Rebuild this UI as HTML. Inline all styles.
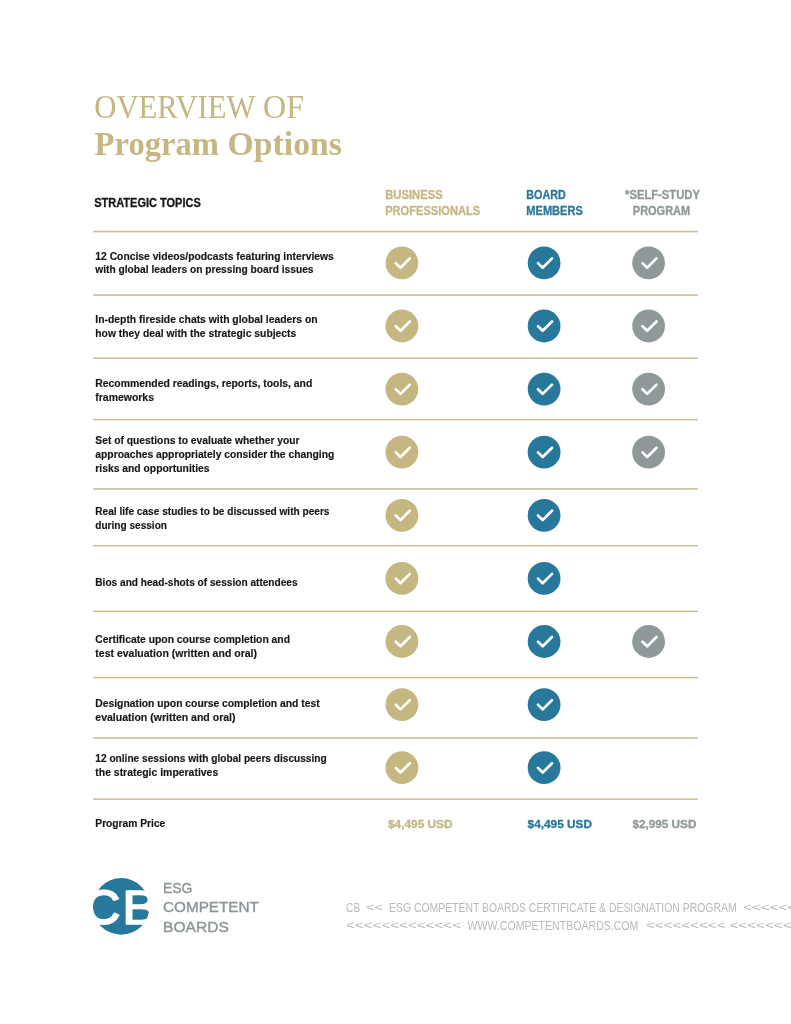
<!DOCTYPE html>
<html lang="en">
<head>
<meta charset="utf-8">
<title>Overview of Program Options</title>
<style>
html,body{margin:0;padding:0;background:#fff;}
body{width:791px;height:1024px;overflow:hidden;font-family:"Liberation Sans",sans-serif;}
svg{display:block;}
text{white-space:pre;font-family:"Liberation Sans",sans-serif;}
text.serif{font-family:"Liberation Serif",serif;}
text.bold{font-weight:bold;}
text.gold,circle.gold{fill:#c4b782;}
text.blue,circle.blue{fill:#27789b;}
text.gray,circle.gray{fill:#8f9999;}
text.ink{fill:#151515;}
text.hd{font-weight:bold;stroke-width:0.3px;}
text.hd.ink{stroke:#151515;} text.hd.gold{stroke:#c4b782;} text.hd.blue{stroke:#27789b;} text.hd.gray{stroke:#8f9999;}
text.row{font-weight:bold;stroke:#151515;stroke-width:0.15px;}
text.logotype{fill:#8c9598;stroke:#8c9598;stroke-width:0.4px;}
text.foot{fill:#b9b9b9;}
text.mark{fill:#fff;stroke:#fff;stroke-linejoin:round;}
rect.rule{fill:#c9c097;}
path.tick{fill:none;stroke:#fff;stroke-width:2.7px;stroke-linecap:round;stroke-linejoin:round;}
</style>
</head>
<body>
<svg width="791" height="1024" viewBox="0 0 791 1024" role="img" aria-label="Overview of Program Options">
<rect width="791" height="1024" fill="#fff"/>

<!-- Title -->
<text class="serif gold"><tspan x="94.2" y="117.6" font-size="33.7" textLength="161.4" lengthAdjust="spacingAndGlyphs">OVERVIEW</tspan> <tspan x="263.0" y="117.6" font-size="33.7" textLength="41.0" lengthAdjust="spacingAndGlyphs">OF</tspan></text>
<text class="serif bold gold"><tspan x="94.6" y="154.5" font-size="33.4" textLength="124.4" lengthAdjust="spacingAndGlyphs">Program</tspan> <tspan x="227.6" y="154.5" font-size="33.4" textLength="114.4" lengthAdjust="spacingAndGlyphs">Options</tspan></text>

<!-- Column headers -->
<text class="hd ink"><tspan x="94.2" y="207.2" font-size="12.0" textLength="106.6" lengthAdjust="spacingAndGlyphs">STRATEGIC TOPICS</tspan></text>
<text class="hd gold"><tspan x="385.2" y="199.2" font-size="12.0" textLength="57.6" lengthAdjust="spacingAndGlyphs">BUSINESS</tspan> <tspan x="385.2" y="214.6" font-size="12.0" textLength="95.0" lengthAdjust="spacingAndGlyphs">PROFESSIONALS</tspan></text>
<text class="hd blue"><tspan x="526.3" y="199.2" font-size="12.0" textLength="39.4" lengthAdjust="spacingAndGlyphs">BOARD</tspan> <tspan x="526.3" y="214.6" font-size="12.0" textLength="56.5" lengthAdjust="spacingAndGlyphs">MEMBERS</tspan></text>
<text class="hd gray"><tspan x="625.0" y="199.2" font-size="12.0" textLength="75.0" lengthAdjust="spacingAndGlyphs">*SELF-STUDY</tspan> <tspan x="632.8" y="214.6" font-size="12.0" textLength="57.4" lengthAdjust="spacingAndGlyphs">PROGRAM</tspan></text>

<!-- Horizontal rules -->
<rect class="rule" x="93.2" y="230.80" width="604.6" height="1.6"/>
<rect class="rule" x="93.2" y="294.30" width="604.6" height="1.6"/>
<rect class="rule" x="93.2" y="357.40" width="604.6" height="1.6"/>
<rect class="rule" x="93.2" y="418.80" width="604.6" height="1.6"/>
<rect class="rule" x="93.2" y="488.10" width="604.6" height="1.6"/>
<rect class="rule" x="93.2" y="544.90" width="604.6" height="1.6"/>
<rect class="rule" x="93.2" y="610.60" width="604.6" height="1.6"/>
<rect class="rule" x="93.2" y="676.80" width="604.6" height="1.6"/>
<rect class="rule" x="93.2" y="737.20" width="604.6" height="1.6"/>
<rect class="rule" x="93.2" y="798.40" width="604.6" height="1.6"/>

<!-- Row labels -->
<text class="row ink"><tspan x="95.3" y="259.5" font-size="10.2" textLength="238.5" lengthAdjust="spacingAndGlyphs">12 Concise videos/podcasts featuring interviews</tspan> <tspan x="95.3" y="273.4" font-size="10.2" textLength="218.2" lengthAdjust="spacingAndGlyphs">with global leaders on pressing board issues</tspan></text>
<text class="row ink"><tspan x="95.3" y="323.1" font-size="10.2" textLength="222.3" lengthAdjust="spacingAndGlyphs">In-depth fireside chats with global leaders on</tspan> <tspan x="95.3" y="337.1" font-size="10.2" textLength="201.0" lengthAdjust="spacingAndGlyphs">how they deal with the strategic subjects</tspan></text>
<text class="row ink"><tspan x="95.3" y="386.8" font-size="10.2" textLength="217.0" lengthAdjust="spacingAndGlyphs">Recommended readings, reports, tools, and</tspan> <tspan x="95.3" y="400.9" font-size="10.2" textLength="58.7" lengthAdjust="spacingAndGlyphs">frameworks</tspan></text>
<text class="row ink"><tspan x="95.3" y="444.3" font-size="10.2" textLength="204.3" lengthAdjust="spacingAndGlyphs">Set of questions to evaluate whether your</tspan> <tspan x="95.3" y="458.3" font-size="10.2" textLength="239.0" lengthAdjust="spacingAndGlyphs">approaches appropriately consider the changing</tspan> <tspan x="95.3" y="472.1" font-size="10.2" textLength="114.3" lengthAdjust="spacingAndGlyphs">risks and opportunities</tspan></text>
<text class="row ink"><tspan x="95.3" y="514.9" font-size="10.2" textLength="234.2" lengthAdjust="spacingAndGlyphs">Real life case studies to be discussed with peers</tspan> <tspan x="95.3" y="529.0" font-size="10.2" textLength="71.7" lengthAdjust="spacingAndGlyphs">during session</tspan></text>
<text class="row ink"><tspan x="95.3" y="586.0" font-size="10.2" textLength="202.3" lengthAdjust="spacingAndGlyphs">Bios and head-shots of session attendees</tspan></text>
<text class="row ink"><tspan x="95.3" y="643.3" font-size="10.2" textLength="194.7" lengthAdjust="spacingAndGlyphs">Certificate upon course completion and</tspan> <tspan x="95.3" y="657.0" font-size="10.2" textLength="161.7" lengthAdjust="spacingAndGlyphs">test evaluation (written and oral)</tspan></text>
<text class="row ink"><tspan x="95.3" y="706.8" font-size="10.2" textLength="224.3" lengthAdjust="spacingAndGlyphs">Designation upon course completion and test</tspan> <tspan x="95.3" y="720.8" font-size="10.2" textLength="140.2" lengthAdjust="spacingAndGlyphs">evaluation (written and oral)</tspan></text>
<text class="row ink"><tspan x="95.3" y="762.4" font-size="10.2" textLength="231.4" lengthAdjust="spacingAndGlyphs">12 online sessions with global peers discussing</tspan> <tspan x="95.3" y="776.1" font-size="10.2" textLength="122.9" lengthAdjust="spacingAndGlyphs">the strategic imperatives</tspan></text>
<text class="row ink"><tspan x="95.3" y="826.6" font-size="10.2" textLength="70.0" lengthAdjust="spacingAndGlyphs">Program Price</tspan></text>

<!-- Check marks -->
<circle class="gold" cx="401.9" cy="262.9" r="16.4"/><path class="tick" d="M395.8 263.1 L400.5 267.7 L409.8 258.4"/>
<circle class="gold" cx="401.9" cy="326.0" r="16.4"/><path class="tick" d="M395.8 326.2 L400.5 330.8 L409.8 321.5"/>
<circle class="gold" cx="401.9" cy="389.1" r="16.4"/><path class="tick" d="M395.8 389.3 L400.5 393.9 L409.8 384.6"/>
<circle class="gold" cx="401.9" cy="452.2" r="16.4"/><path class="tick" d="M395.8 452.4 L400.5 457.0 L409.8 447.7"/>
<circle class="gold" cx="401.9" cy="515.3" r="16.4"/><path class="tick" d="M395.8 515.5 L400.5 520.1 L409.8 510.8"/>
<circle class="gold" cx="401.9" cy="578.4" r="16.4"/><path class="tick" d="M395.8 578.6 L400.5 583.2 L409.8 573.9"/>
<circle class="gold" cx="401.9" cy="641.5" r="16.4"/><path class="tick" d="M395.8 641.7 L400.5 646.3 L409.8 637.0"/>
<circle class="gold" cx="401.9" cy="704.6" r="16.4"/><path class="tick" d="M395.8 704.8 L400.5 709.4 L409.8 700.1"/>
<circle class="gold" cx="401.9" cy="767.7" r="16.4"/><path class="tick" d="M395.8 767.9 L400.5 772.5 L409.8 763.2"/>
<circle class="blue" cx="544.1" cy="262.9" r="16.4"/><path class="tick" d="M538.0 263.1 L542.7 267.7 L552.0 258.4"/>
<circle class="blue" cx="544.1" cy="326.0" r="16.4"/><path class="tick" d="M538.0 326.2 L542.7 330.8 L552.0 321.5"/>
<circle class="blue" cx="544.1" cy="389.1" r="16.4"/><path class="tick" d="M538.0 389.3 L542.7 393.9 L552.0 384.6"/>
<circle class="blue" cx="544.1" cy="452.2" r="16.4"/><path class="tick" d="M538.0 452.4 L542.7 457.0 L552.0 447.7"/>
<circle class="blue" cx="544.1" cy="515.3" r="16.4"/><path class="tick" d="M538.0 515.5 L542.7 520.1 L552.0 510.8"/>
<circle class="blue" cx="544.1" cy="578.4" r="16.4"/><path class="tick" d="M538.0 578.6 L542.7 583.2 L552.0 573.9"/>
<circle class="blue" cx="544.1" cy="641.5" r="16.4"/><path class="tick" d="M538.0 641.7 L542.7 646.3 L552.0 637.0"/>
<circle class="blue" cx="544.1" cy="704.6" r="16.4"/><path class="tick" d="M538.0 704.8 L542.7 709.4 L552.0 700.1"/>
<circle class="blue" cx="544.1" cy="767.7" r="16.4"/><path class="tick" d="M538.0 767.9 L542.7 772.5 L552.0 763.2"/>
<circle class="gray" cx="648.6" cy="262.9" r="16.4"/><path class="tick" d="M642.5 263.1 L647.2 267.7 L656.5 258.4"/>
<circle class="gray" cx="648.6" cy="326.0" r="16.4"/><path class="tick" d="M642.5 326.2 L647.2 330.8 L656.5 321.5"/>
<circle class="gray" cx="648.6" cy="389.1" r="16.4"/><path class="tick" d="M642.5 389.3 L647.2 393.9 L656.5 384.6"/>
<circle class="gray" cx="648.6" cy="452.2" r="16.4"/><path class="tick" d="M642.5 452.4 L647.2 457.0 L656.5 447.7"/>
<circle class="gray" cx="648.6" cy="641.5" r="16.4"/><path class="tick" d="M642.5 641.7 L647.2 646.3 L656.5 637.0"/>

<!-- Prices -->
<text class="hd gold"><tspan x="388.0" y="827.9" font-size="11.2" textLength="64.6" lengthAdjust="spacingAndGlyphs">$4,495 USD</tspan></text>
<text class="hd blue"><tspan x="527.6" y="827.9" font-size="11.2" textLength="64.4" lengthAdjust="spacingAndGlyphs">$4,495 USD</tspan></text>
<text class="hd gray"><tspan x="632.4" y="827.9" font-size="11.2" textLength="64.0" lengthAdjust="spacingAndGlyphs">$2,995 USD</tspan></text>

<!-- Logo -->
<circle class="blue" cx="121.2" cy="906.4" r="28.3"/>
<text class="mark" transform="translate(84.7 923.7) scale(1.03 1)" font-size="47.8" stroke-width="2">C</text>
<text class="mark" transform="translate(122.0 923.5) scale(1.16 1)" font-size="47.5" stroke-width="1.4">B</text>
<rect x="146.6" y="903.2" width="4" height="5.6" fill="#fff"/>
<text class="logotype"><tspan x="163.0" y="893.0" font-size="14.5" textLength="29.4" lengthAdjust="spacingAndGlyphs">ESG</tspan> <tspan x="163.0" y="912.2" font-size="14.5" textLength="95.9" lengthAdjust="spacingAndGlyphs">COMPETENT</tspan> <tspan x="163.0" y="931.6" font-size="14.5" textLength="65.8" lengthAdjust="spacingAndGlyphs">BOARDS</tspan></text>

<!-- Footer strip -->
<text class="foot"><tspan x="346.0" y="911.7" font-size="12.4" textLength="14.2" lengthAdjust="spacingAndGlyphs">CB</tspan> <tspan x="366.0" y="910.5" font-size="11.2" textLength="17.0" lengthAdjust="spacingAndGlyphs">&lt;&lt;</tspan> <tspan x="389.0" y="911.7" font-size="12.4" textLength="347.6" lengthAdjust="spacingAndGlyphs">ESG COMPETENT BOARDS CERTIFICATE &amp; DESIGNATION PROGRAM</tspan> <tspan x="743.0" y="910.5" font-size="11.2" textLength="62.0" lengthAdjust="spacingAndGlyphs">&lt;&lt;&lt;&lt;&lt;&lt;&lt;</tspan></text>
<text class="foot"><tspan x="346.0" y="928.9" font-size="11.2" textLength="115.0" lengthAdjust="spacingAndGlyphs">&lt;&lt;&lt;&lt;&lt;&lt;&lt;&lt;&lt;&lt;&lt;&lt;&lt;</tspan> <tspan x="467.6" y="930.1" font-size="12.4" textLength="170.8" lengthAdjust="spacingAndGlyphs">WWW.COMPETENTBOARDS.COM</tspan> <tspan x="646.0" y="928.9" font-size="11.2" textLength="79.5" lengthAdjust="spacingAndGlyphs">&lt;&lt;&lt;&lt;&lt;&lt;&lt;&lt;&lt;</tspan> <tspan x="729.5" y="928.9" font-size="11.2" textLength="62.0" lengthAdjust="spacingAndGlyphs">&lt;&lt;&lt;&lt;&lt;&lt;&lt;</tspan></text>
</svg>
</body>
</html>
